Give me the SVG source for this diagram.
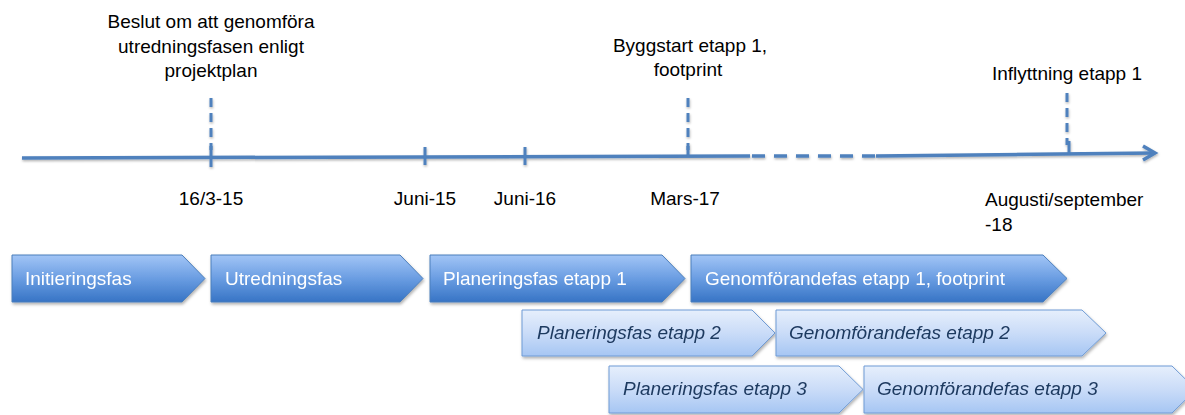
<svg xmlns="http://www.w3.org/2000/svg" width="1185" height="415" viewBox="0 0 1185 415">
<defs>
<linearGradient id="gDark" x1="0" y1="0" x2="0" y2="1">
<stop offset="0" stop-color="#a2c5f6"/>
<stop offset="0.5" stop-color="#6a9de2"/>
<stop offset="1" stop-color="#3774c5"/>
</linearGradient>
<linearGradient id="gLight" x1="0" y1="0" x2="0" y2="1">
<stop offset="0" stop-color="#e6effc"/>
<stop offset="0.5" stop-color="#cadcf8"/>
<stop offset="1" stop-color="#a6c6f3"/>
</linearGradient>
<filter id="sh" x="-5%" y="-20%" width="110%" height="150%">
<feDropShadow dx="1" dy="2" stdDeviation="1.5" flood-color="#000" flood-opacity="0.3"/>
</filter>
<filter id="lsh" x="-2%" y="-50%" width="104%" height="200%">
<feDropShadow dx="0.5" dy="1.5" stdDeviation="1" flood-color="#000" flood-opacity="0.3"/>
</filter>
</defs>
<style>
text{font-family:"Liberation Sans",Arial,sans-serif;font-size:19px}
.lbl{fill:#000}
.mid{text-anchor:middle}
.dk{fill:url(#gDark);stroke:#4a7ebb;stroke-width:1}
.lt{fill:url(#gLight);stroke:#6f9bd5;stroke-width:1}
.wt{fill:#fff}
.it{fill:#1f3a60;font-style:italic}
.ax{stroke:#4f81bd;stroke-width:3.5;fill:none}
.tk{stroke:#4f81bd;stroke-width:3;fill:none}
.vd{stroke:#4f81bd;stroke-width:3;fill:none;stroke-dasharray:9 6}
</style>

<g id="connectors" filter="url(#lsh)">
<path class="ax" d="M22,158 L750,156"/>
<path class="ax" d="M752,156 L876,156" stroke-dasharray="13 9"/>
<path class="ax" d="M876,156 L1155,153"/>
<path class="ax" d="M1143,146 L1155,153 L1143,160"/>
<path class="tk" d="M211,146 V167 M425,147 V165 M525,147 V165 M688,146 V157 M1069,141 V155"/>
<path class="vd" d="M211,98 V150"/>
<path class="vd" d="M688,98 V150"/>
<path class="vd" d="M1067,93 V145"/>
</g>

<g id="milestone-beslut">
<text class="lbl mid" x="211" y="28">Beslut om att genomföra</text>
<text class="lbl mid" x="211" y="53">utredningsfasen enligt</text>
<text class="lbl mid" x="211" y="77">projektplan</text>
</g>
<g id="milestone-byggstart">
<text class="lbl mid" x="690" y="52">Byggstart etapp 1,</text>
<text class="lbl mid" x="688" y="76">footprint</text>
</g>
<g id="milestone-inflyttning">
<text class="lbl mid" x="1067" y="80">Inflyttning etapp 1</text>
</g>

<g id="dates">
<text class="lbl mid" x="211" y="205">16/3-15</text>
<text class="lbl mid" x="425" y="205">Juni-15</text>
<text class="lbl mid" x="525" y="205">Juni-16</text>
<text class="lbl mid" x="685" y="205">Mars-17</text>
<text class="lbl" x="985" y="206">Augusti/september</text>
<text class="lbl" x="985" y="231">-18</text>
</g>

<g id="phase-initiering" filter="url(#sh)">
<path class="dk" d="M12,255 H182 L205,278.5 L182,302 H12 Z"/>
<text class="wt" x="25" y="285">Initieringsfas</text>
</g>
<g id="phase-utredning" filter="url(#sh)">
<path class="dk" d="M211,255 H400 L423,278.5 L400,302 H211 Z"/>
<text class="wt" x="225" y="285">Utredningsfas</text>
</g>
<g id="phase-planering1" filter="url(#sh)">
<path class="dk" d="M430,255 H662 L685,278.5 L662,302 H430 Z"/>
<text class="wt" x="443" y="285">Planeringsfas etapp 1</text>
</g>
<g id="phase-genomforande1" filter="url(#sh)">
<path class="dk" d="M691,255 H1043 L1067,278.5 L1043,302 H691 Z"/>
<text class="wt" x="705" y="285">Genomförandefas etapp 1, footprint</text>
</g>
<g id="phase-planering2" filter="url(#sh)">
<path class="lt" d="M522,310 H752 L775,333 L752,356 H522 Z"/>
<text class="it" x="537" y="339">Planeringsfas etapp 2</text>
</g>
<g id="phase-genomforande2" filter="url(#sh)">
<path class="lt" d="M776,310 H1082 L1106,333 L1082,356 H776 Z"/>
<text class="it" x="789" y="339">Genomförandefas etapp 2</text>
</g>
<g id="phase-planering3" filter="url(#sh)">
<path class="lt" d="M609,366 H839 L863,389.5 L839,413 H609 Z"/>
<text class="it" x="623" y="395">Planeringsfas etapp 3</text>
</g>
<g id="phase-genomforande3" filter="url(#sh)">
<path class="lt" d="M864,366 H1172 L1196,389.5 L1172,413 H864 Z"/>
<text class="it" x="877" y="395">Genomförandefas etapp 3</text>
</g>
</svg>
